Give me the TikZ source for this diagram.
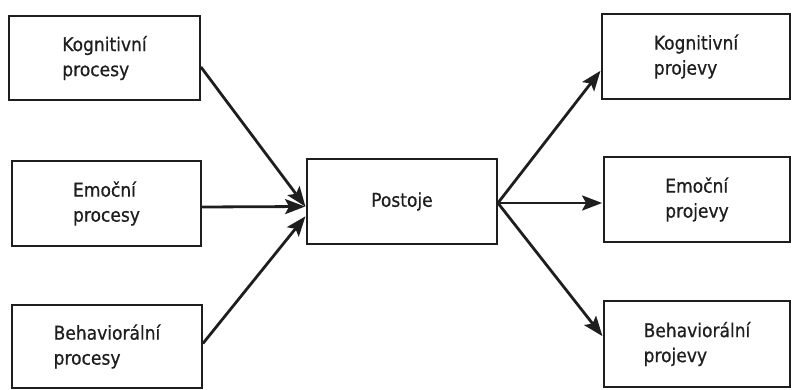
\documentclass[tikz,border=0pt]{standalone}
\usepackage{fontspec}
\setmainfont{DejaVu Sans Condensed}
\usetikzlibrary{arrows.meta}
\definecolor{ink}{HTML}{1E1E1E}
\tikzset{
  box/.style={draw=ink, line width=1.8pt, fill=white, inner sep=0pt,
    font=\fontsize{19}{25}\selectfont\addfontfeature{FakeBold=0.6},
    text=ink, align=left},
  flow/.style={draw=ink, line width=2.8pt,
    -{Stealth[length=20pt,width=15pt,inset=4pt]}, shorten >=1pt}
}
\begin{document}
\begin{tikzpicture}[x=1pt,y=-1pt]
\useasboundingbox (0,0) rectangle (792,390);
% causes on the left
\node[box, minimum width=191pt, minimum height=84pt] (kp) at (104.5,58) {Kognitivní\\procesy};
\node[box, minimum width=189pt, minimum height=85pt] (ep) at (106.5,203.5) {Emoční\\procesy};
\node[box, minimum width=190pt, minimum height=83pt] (bp) at (107,346.5) {Behaviorální\\procesy};
% attitudes
\node[box, minimum width=190pt, minimum height=85pt] (po) at (402,201.5) {Postoje};
% manifestations on the right
\node[box, minimum width=188pt, minimum height=85pt] (kj) at (696,56.5) {Kognitivní\\projevy};
\node[box, minimum width=186pt, minimum height=85pt] (ej) at (697,199.5) {Emoční\\projevy};
\node[box, minimum width=186pt, minimum height=86pt] (bj) at (697,344) {Behaviorální\\projevy};
% incoming arrows
\draw[flow] ([yshift=-9pt]kp.east) -- ([yshift=-6pt]po.west);
\draw[flow] ([yshift=-3.5pt]ep.east) -- ([yshift=-5pt]po.west);
\draw[flow] ([yshift=3pt]bp.east) -- ([yshift=-14pt]po.west);
% outgoing arrows
\draw[flow] ([yshift=-1.5pt]po.east) -- ([yshift=-13.5pt]kj.west);
\draw[flow] ([yshift=-1.5pt]po.east) -- ([yshift=-3.5pt]ej.west);
\draw[flow] ([yshift=-1.5pt]po.east) -- ([yshift=7pt]bj.west);
\end{tikzpicture}
\end{document}
